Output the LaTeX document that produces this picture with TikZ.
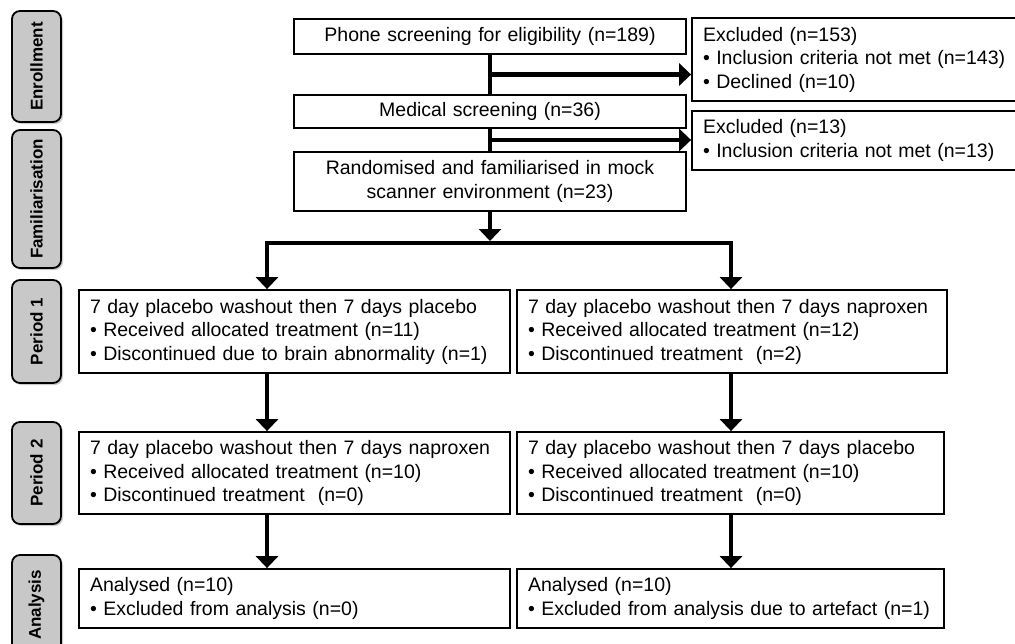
\documentclass[tikz,border=0pt]{standalone}
\usepackage{fontspec}
\setmainfont{Liberation Sans}
\usetikzlibrary{arrows.meta,shadows,calc}
\definecolor{stagegray}{RGB}{200,200,200}

\begin{document}
\begin{tikzpicture}[x=1pt, y=-1pt,
    box/.style = {draw, line width=1.8pt, inner xsep=11pt, inner ysep=0pt, align=left,
                  font=\fontsize{19.5}{23.5}\selectfont},
    cbox/.style = {box, align=center},
    stage/.style = {draw, line width=1.8pt, rounded corners=8pt, fill=stagegray,
                    minimum width=49pt, inner sep=0pt,
                    font=\bfseries\fontsize{17}{20}\selectfont,
                    drop shadow={shadow xshift=2pt, shadow yshift=-2pt, opacity=.4}},
    flow/.style = {line width=4.5pt},
    arr/.style = {flow, -{Triangle[width=22pt, length=12pt]}}]
  \useasboundingbox (0,0) rectangle (1015,643);
  \fill [white] (0,0) rectangle (1015,643);

  % stages
  \node [stage, minimum height=111pt] (enrol) at (36.5,66.5) {\rotatebox{90}{Enrollment}};
  \node [stage, minimum height=138pt] (famil) at (36.5,199) {\rotatebox{90}{Familiarisation}};
  \node [stage, minimum height=103pt] (per1) at (36.5,331.5) {\rotatebox{90}{Period 1}};
  \node [stage, minimum height=102pt] (per2) at (36.5,473) {\rotatebox{90}{Period 2}};
  \node [stage, minimum height=100pt] (anal) at (36.5,605) {\rotatebox{90}{Analysis}};

  % screening
  \node [cbox, text width=370pt, minimum height=35pt] (phone) at (490,36.5)
    {Phone screening for eligibility (n=189)};
  \node [cbox, text width=370pt, minimum height=33pt] (medical) at (490,111.5)
    {Medical screening (n=36)};
  \node [cbox, text width=370pt, minimum height=59pt] (random) at (490,181.5)
    {Randomised and familiarised in mock\\scanner environment (n=23)};
  \node [box, text width=311pt, minimum height=83pt] (excl1) at (858.5,59.5)
    {Excluded (n=153)\\{\textbullet} Inclusion criteria not met (n=143)\\{\textbullet} Declined (n=10)};
  \node [box, text width=311pt, minimum height=59pt] (excl2) at (858.5,140.5)
    {Excluded (n=13)\\{\textbullet} Inclusion criteria not met (n=13)};

  % arms
  \node [box, text width=409pt, minimum height=83pt] (p1a) at (294.5,331.5)
    {7 day placebo washout then 7 days placebo\\{\textbullet} Received allocated treatment (n=11)\\{\textbullet} Discontinued due to brain abnormality (n=1)};
  \node [box, text width=408pt, minimum height=83pt] (p1b) at (732,331.5)
    {7 day placebo washout then 7 days naproxen\\{\textbullet} Received allocated treatment (n=12)\\{\textbullet} Discontinued treatment~ (n=2)};
  \node [box, text width=409pt, minimum height=82pt] (p2a) at (294.5,473)
    {7 day placebo washout then 7 days naproxen\\{\textbullet} Received allocated treatment (n=10)\\{\textbullet} Discontinued treatment~ (n=0)};
  \node [box, text width=405pt, minimum height=82pt] (p2b) at (730.5,473)
    {7 day placebo washout then 7 days placebo\\{\textbullet} Received allocated treatment (n=10)\\{\textbullet} Discontinued treatment~ (n=0)};
  \node [box, text width=409pt, minimum height=59pt] (anA) at (294.5,598.5)
    {Analysed (n=10)\\{\textbullet} Excluded from analysis (n=0)};
  \node [box, text width=405pt, minimum height=59pt] (anB) at (730.5,598.5)
    {Analysed (n=10)\\{\textbullet} Excluded from analysis due to artefact (n=1)};

  \coordinate (b1) at ($(phone.south)!.5!(medical.north)$);
  \coordinate (b2) at ($(medical.south)!.5!(random.north)$);
  \coordinate (splitL) at (267,243);
  \coordinate (splitR) at (731,243);
  \coordinate (split) at (random.south |- splitL);

  \draw [flow] (phone) -- (medical);
  \draw [flow] (medical) -- (random);
  \draw [arr] (b1) -- (b1 -| excl1.west);
  \draw [arr] (b2) -- (b2 -| excl2.west);
  \draw [arr, shorten >=2pt] (random) -- (split);
  \draw [arr] (split) -- (splitL) -- (splitL |- p1a.north);
  \draw [arr] (split) -- (splitR) -- (splitR |- p1b.north);
  \draw [arr] (p1a.south -| splitL) -- (p2a.north -| splitL);
  \draw [arr] (p2a.south -| splitL) -- (anA.north -| splitL);
  \draw [arr] (p1b.south -| splitR) -- (p2b.north -| splitR);
  \draw [arr] (p2b.south -| splitR) -- (anB.north -| splitR);
\end{tikzpicture}
\end{document}
